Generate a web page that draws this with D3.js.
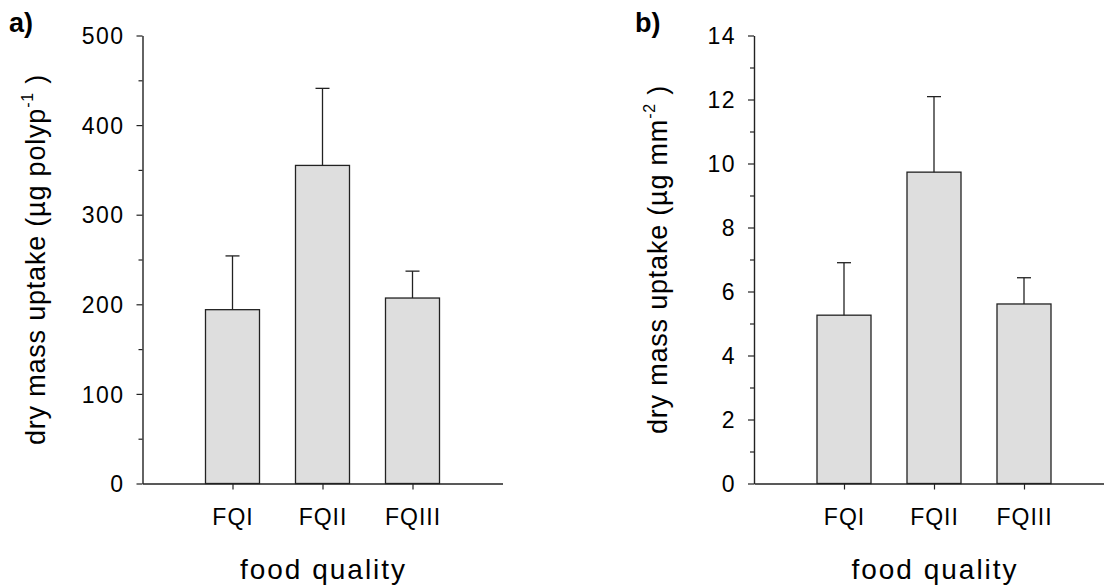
<!DOCTYPE html>
<html>
<head>
<meta charset="utf-8">
<script src="https://cdn.jsdelivr.net/npm/d3@7"></script>
<style>
  html, body { margin: 0; padding: 0; background: #fff; }
  svg { display: block; font-family: "Liberation Sans", Arial, sans-serif; }
</style>
</head>
<body>
<svg id="chart" width="1104" height="587"></svg>
<script>
// ---- data ----
const categories = ["FQI", "FQII", "FQIII"];
const polypMeans = [194, 355, 207];
const polypErrTop = [254, 441, 237];
const areaMeans = [5.26, 9.73, 5.61];
const areaErrTop = [6.9, 12.09, 6.43];
const polypTicks = [0, 100, 200, 300, 400, 500];
const polypMinor = [50, 150, 250, 350, 450];
const areaTicks = [0, 2, 4, 6, 8, 10, 12, 14];
const areaMinor = [1, 3, 5, 7, 9, 11, 13];
const xTitle = "food quality";

const svg = d3.select("#chart");
const axisColor = "#222";

function panel(opts) {
  const g = svg.append("g");
  const x = d3.scaleLinear().domain([0, 4]).range([opts.x0, opts.x0 + 360]);
  const y = d3.scaleLinear().domain([0, opts.max]).range([483.5, 35.5]);

  // minor ticks
  g.append("g")
    .attr("transform", `translate(${opts.x0},0)`)
    .call(d3.axisLeft(y).tickValues(opts.minor).tickSize(4).tickFormat(""))
    .call(s => s.select(".domain").remove())
    .call(s => s.selectAll("line").attr("stroke", axisColor).attr("stroke-width", 1.2));

  // major y axis
  const ya = g.append("g")
    .attr("transform", `translate(${opts.x0},0)`)
    .call(d3.axisLeft(y).tickValues(opts.ticks).tickSize(6).tickPadding(12).tickSizeOuter(0));
  ya.select(".domain").attr("stroke", axisColor).attr("stroke-width", 1.4);
  ya.selectAll(".tick line").attr("stroke", axisColor).attr("stroke-width", 1.2);
  ya.selectAll("text").attr("font-size", 23).attr("fill", "#000")
    .attr("font-family", "Liberation Sans, Arial, sans-serif").attr("letter-spacing", "1.5px")
    .attr("dy", "0.36em");

  // bars
  g.selectAll("rect.bar").data(categories).enter().append("rect")
    .attr("x", (d, i) => x(i + 1) - 27)
    .attr("width", 54)
    .attr("y", (d, i) => y(opts.means[i]))
    .attr("height", (d, i) => y(0) - y(opts.means[i]))
    .attr("fill", "#dedede").attr("stroke", axisColor).attr("stroke-width", 1.3);

  // error bars
  categories.forEach((c, i) => {
    g.append("line")
      .attr("x1", x(i + 1)).attr("x2", x(i + 1))
      .attr("y1", y(opts.means[i])).attr("y2", y(opts.err[i]))
      .attr("stroke", axisColor).attr("stroke-width", 1.3);
    g.append("line")
      .attr("x1", x(i + 1) - 7).attr("x2", x(i + 1) + 7)
      .attr("y1", y(opts.err[i])).attr("y2", y(opts.err[i]))
      .attr("stroke", axisColor).attr("stroke-width", 1.3);
  });

  // x axis
  const xa = g.append("g")
    .attr("transform", `translate(0,${y(0)})`)
    .call(d3.axisBottom(x).tickValues([1, 2, 3]).tickSize(6).tickPadding(20).tickSizeOuter(0)
      .tickFormat(v => categories[v - 1]));
  xa.select(".domain").attr("stroke", axisColor).attr("stroke-width", 1.5);
  xa.selectAll(".tick line").attr("stroke", axisColor).attr("stroke-width", 1.2);
  xa.selectAll("text").attr("font-size", 23).attr("fill", "#000")
    .attr("font-family", "Liberation Sans, Arial, sans-serif").attr("letter-spacing", "1px")
    .attr("dy", "0").attr("y", 41.5);

  // x title
  g.append("text")
    .attr("x", x(2) + 1).attr("y", 578.5)
    .attr("text-anchor", "middle")
    .attr("font-size", 28).attr("letter-spacing", "2px")
    .text(xTitle);

  // y title
  const yt = g.append("text")
    .attr("transform", `translate(${opts.titleX},${(y(0) + y(opts.max)) / 2}) rotate(-90)`)
    .attr("text-anchor", "middle")
    .attr("font-size", 27).attr("letter-spacing", "0.8px");
  yt.append("tspan").text(opts.yTitle);
  yt.append("tspan").attr("font-size", 16).attr("dy", -12).text(opts.sup);
  yt.append("tspan").attr("dy", 12).text(" )");

  // panel label
  svg.append("text")
    .attr("x", opts.labelX).attr("y", 32)
    .attr("font-size", 27).attr("font-weight", "bold")
    .text(opts.label);
}

panel({ x0: 142.5, max: 500, ticks: polypTicks, minor: polypMinor,
  means: polypMeans, err: polypErrTop, titleX: 45,
  yTitle: "dry mass uptake (µg polyp", sup: "-1", label: "a)", labelX: 9 });

panel({ x0: 754, max: 14, ticks: areaTicks, minor: areaMinor,
  means: areaMeans, err: areaErrTop, titleX: 666.5,
  yTitle: "dry mass uptake (µg mm", sup: "-2", label: "b)", labelX: 635 });
</script>
</body>
</html>
